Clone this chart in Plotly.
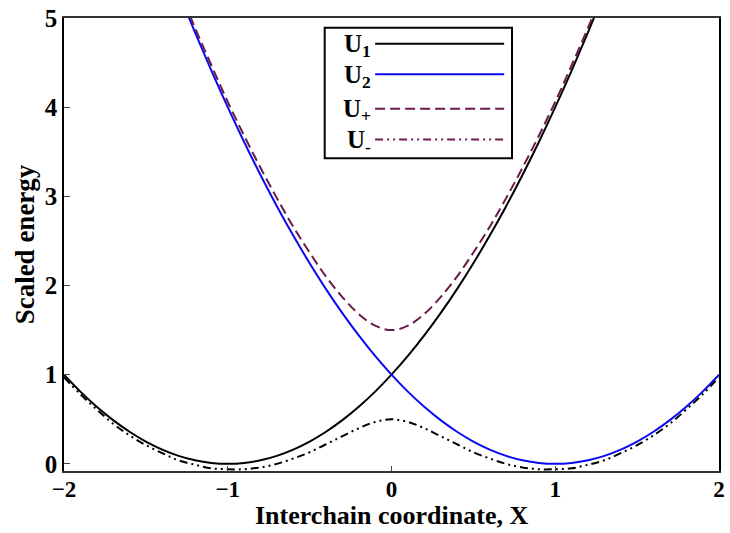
import plotly.graph_objects as go

# Interchain coordinate grid
x = [-2.0, -1.9, -1.8, -1.7, -1.6, -1.5, -1.4, -1.3, -1.2, -1.1, -1.0,
     -0.9, -0.8, -0.7, -0.6, -0.5, -0.4, -0.3, -0.2, -0.1, 0.0,
     0.1, 0.2, 0.3, 0.4, 0.5, 0.6, 0.7, 0.8, 0.9, 1.0,
     1.1, 1.2, 1.3, 1.4, 1.5, 1.6, 1.7, 1.8, 1.9, 2.0]

# Diabatic curve U1 (from x = -2.0 to 1.3)
u1 = [1.00, 0.81, 0.64, 0.49, 0.36, 0.25, 0.16, 0.09, 0.04, 0.01, 0.00,
      0.01, 0.04, 0.09, 0.16, 0.25, 0.36, 0.49, 0.64, 0.81, 1.00,
      1.21, 1.44, 1.69, 1.96, 2.25, 2.56, 2.89, 3.24, 3.61, 4.00,
      4.41, 4.84, 5.29]

# Diabatic curve U2 (from x = -1.3 to 2.0)
u2 = [5.29, 4.84, 4.41, 4.00,
      3.61, 3.24, 2.89, 2.56, 2.25, 1.96, 1.69, 1.44, 1.21, 1.00,
      0.81, 0.64, 0.49, 0.36, 0.25, 0.16, 0.09, 0.04, 0.01, 0.00,
      0.01, 0.04, 0.09, 0.16, 0.25, 0.36, 0.49, 0.64, 0.81, 1.00]

# Upper adiabatic curve U+ (from x = -1.3 to 1.3)
u_plus = [5.34, 4.89, 4.47, 4.06,
          3.68, 3.32, 2.98, 2.66, 2.37, 2.10, 1.87, 1.68, 1.55, 1.50,
          1.55, 1.68, 1.87, 2.10, 2.37, 2.66, 2.98, 3.32, 3.68, 4.06,
          4.47, 4.89, 5.34]

# Lower adiabatic curve U- (full range)
u_minus = [0.97, 0.78, 0.61, 0.45, 0.32, 0.21, 0.12, 0.04, -0.01, -0.05, -0.06,
           -0.06, -0.04, 0.00, 0.06, 0.13, 0.22, 0.31, 0.40, 0.47, 0.50,
           0.47, 0.40, 0.31, 0.22, 0.13, 0.06, 0.00, -0.04, -0.06, -0.06,
           -0.05, -0.01, 0.04, 0.12, 0.21, 0.32, 0.45, 0.61, 0.78, 0.97]

x_u1 = x[:len(u1)]
x_u2 = x[len(x) - len(u2):]
x_up = x[7:7 + len(u_plus)]

x_ticks = [-2, -1, 0, 1, 2]
y_ticks = [0, 1, 2, 3, 4, 5]

PURPLE = "#6B1A4C"
BLUE = "#0A0AF0"
DASH_PLUS = "10px,5px"
DASH_MINUS = "8px,4px,2px,4px,2px,4px"
SERIF = "Liberation Serif"

MARGIN = dict(l=64, r=5, t=12, b=62)
HEIGHT = 533
plot_h = HEIGHT - MARGIN["t"] - MARGIN["b"]

fig = go.Figure()
fig.add_trace(go.Scatter(x=x_u1, y=u1, mode="lines", line=dict(color="black", width=2, shape="spline"), showlegend=False))
fig.add_trace(go.Scatter(x=x_u2, y=u2, mode="lines", line=dict(color=BLUE, width=2, shape="spline"), showlegend=False))
fig.add_trace(go.Scatter(x=x_up, y=u_plus, mode="lines", line=dict(color=PURPLE, width=2, dash=DASH_PLUS, shape="spline"), showlegend=False))
fig.add_trace(go.Scatter(x=x, y=u_minus, mode="lines", line=dict(color="black", width=2, dash=DASH_MINUS, shape="spline"), showlegend=False))

# Hand-built legend: label on the left, line sample on the right (pixel rows from the top edge)
legend_items = [
    ("U<sub>1</sub>", "black", "solid", 38),
    ("U<sub>2</sub>", BLUE, "solid", 69),
    ("U<sub>+</sub>", PURPLE, DASH_PLUS, 104),
    ("U<sub>-</sub>", PURPLE, DASH_MINUS, 135),
]


def py(row):
    return 1 - (row - MARGIN["t"]) / plot_h


shapes = [dict(type="rect", xref="paper", yref="paper", x0=0.398, x1=0.684, y0=py(154), y1=py(22),
               line=dict(color="black", width=2), fillcolor="white", layer="above")]
annotations = []
for label, color, dash, row in legend_items:
    shapes.append(dict(type="line", xref="paper", yref="paper", x0=0.475, x1=0.672, y0=py(row), y1=py(row),
                       line=dict(color=color, width=2, dash=dash), layer="above"))
    annotations.append(dict(xref="paper", yref="paper", x=0.472, y=py(row + 2), text=label, showarrow=False,
                            xanchor="right", yanchor="middle",
                            font=dict(family=SERIF, size=25, color="black", weight="bold")))

# x-axis title placed under the tick labels
annotations.append(dict(xref="paper", yref="paper", x=0.5, y=py(HEIGHT), text="Interchain coordinate, X",
                        showarrow=False, xanchor="center", yanchor="bottom",
                        font=dict(family=SERIF, size=26, color="black", weight="bold")))

fig.update_layout(
    width=730, height=HEIGHT,
    margin=MARGIN,
    paper_bgcolor="white", plot_bgcolor="white",
    shapes=shapes, annotations=annotations,
    font=dict(family=SERIF, color="black"),
)
fig.update_xaxes(
    range=[-2, 2], tickvals=x_ticks, ticks="inside", ticklen=5, tickcolor="#444",
    showgrid=False, zeroline=False, showline=True, linecolor="#333", linewidth=2, mirror=True,
    tickfont=dict(family=SERIF, size=23, weight="bold"), ticklabeloverflow="allow",
    ticklabelstandoff=-4,
)
fig.update_yaxes(
    range=[-0.08, 5], tickvals=y_ticks, ticks="inside", ticklen=6, tickcolor="#444",
    showgrid=False, zeroline=False, showline=True, linecolor="black", linewidth=1.5, mirror=True,
    tickfont=dict(family=SERIF, size=25, weight="bold"), ticklabeloverflow="allow",
    title=dict(text="Scaled energy", font=dict(family=SERIF, size=27, weight="bold"), standoff=2),
)

fig.write_html("out.html")
